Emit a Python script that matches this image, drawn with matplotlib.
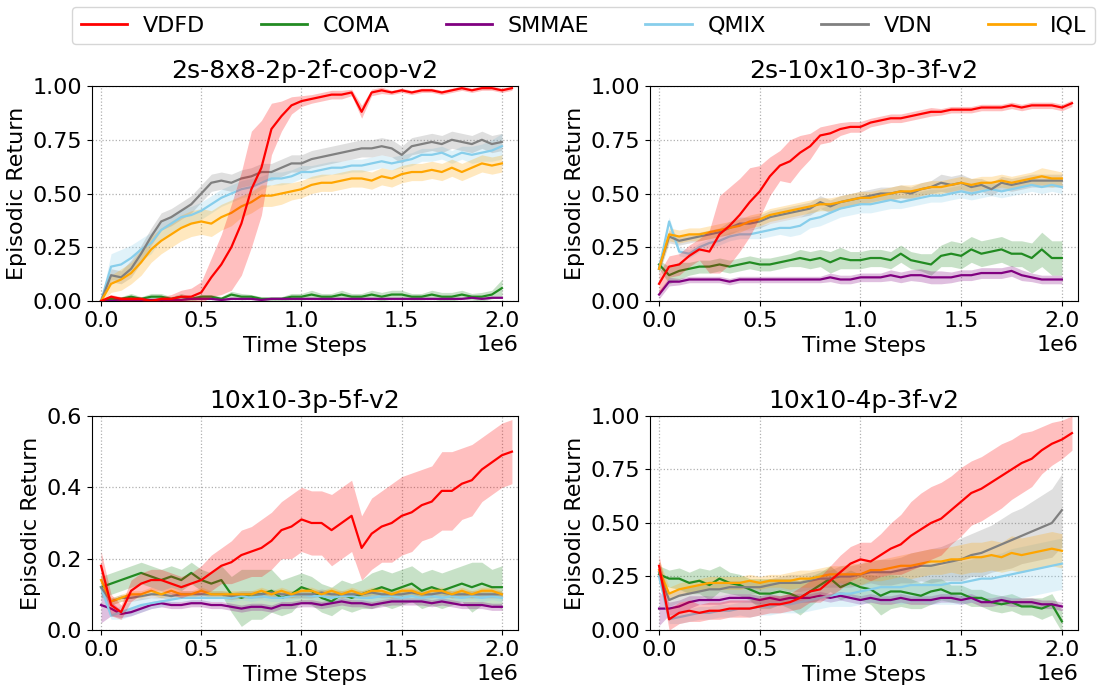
import numpy as np
import matplotlib
matplotlib.use("Agg")
import matplotlib.pyplot as plt

# episodic return sampled every 50k steps; VDFD runs one extra sample (to 2.05e6)
methods = ["VDFD", "COMA", "SMMAE", "QMIX", "VDN", "IQL"]
colors = ["red", "forestgreen", "purple", "skyblue", "grey", "orange"]
titles = ["2s-8x8-2p-2f-coop-v2", "2s-10x10-3p-3f-v2", "10x10-3p-5f-v2", "10x10-4p-3f-v2"]

# ---- 2s-8x8-2p-2f-coop-v2
p1_vdfd = [0.00, 0.02, 0.01, 0.01, 0.01, 0.00, 0.01, 0.01, 0.02, 0.02, 0.04, 0.11, 0.17, 0.25, 0.36, 0.52, 0.62,
           0.80, 0.86, 0.91, 0.93, 0.94, 0.95, 0.96, 0.96, 0.97, 0.88, 0.97, 0.98, 0.97, 0.98, 0.97, 0.98, 0.98,
           0.97, 0.98, 0.99, 0.98, 0.99, 0.99, 0.98, 0.99]
p1_vdfd_sd = [0.005, 0.01, 0.01, 0.01, 0.01, 0.01, 0.01, 0.02, 0.03, 0.04, 0.05, 0.09, 0.14, 0.20, 0.24, 0.27, 0.22,
              0.12, 0.07, 0.04, 0.025, 0.02, 0.02, 0.02, 0.02, 0.015, 0.03, 0.015, 0.015, 0.01, 0.01, 0.01, 0.01,
              0.01, 0.01, 0.01, 0.01, 0.01, 0.01, 0.01, 0.01, 0.01]
p1_coma = [0.00, 0.01, 0.01, 0.02, 0.01, 0.02, 0.02, 0.01, 0.02, 0.01, 0.02, 0.02, 0.01, 0.03, 0.02, 0.02, 0.01,
           0.01, 0.01, 0.02, 0.02, 0.03, 0.02, 0.02, 0.03, 0.02, 0.02, 0.03, 0.02, 0.03, 0.03, 0.02, 0.02, 0.03,
           0.02, 0.02, 0.03, 0.02, 0.02, 0.03, 0.06]
p1_coma_sd = [0.005, 0.01, 0.01, 0.015, 0.01, 0.015, 0.015, 0.01, 0.015, 0.01, 0.01, 0.01, 0.01, 0.015, 0.015, 0.01,
              0.01, 0.01, 0.01, 0.015, 0.015, 0.02, 0.015, 0.015, 0.02, 0.015, 0.015, 0.02, 0.02, 0.02, 0.02, 0.015,
              0.015, 0.02, 0.02, 0.02, 0.02, 0.015, 0.02, 0.02, 0.04]
p1_smmae = [0.00, 0.00, 0.005, 0.005, 0.005, 0.005, 0.005, 0.005, 0.005, 0.01, 0.01, 0.01, 0.005, 0.01, 0.01, 0.01,
            0.005, 0.01, 0.01, 0.01, 0.01, 0.01, 0.01, 0.01, 0.01, 0.01, 0.01, 0.01, 0.01, 0.01, 0.01, 0.01, 0.01,
            0.01, 0.01, 0.01, 0.01, 0.015, 0.01, 0.015, 0.015]
p1_smmae_sd = [0.003] * 41
p1_qmix = [0.00, 0.16, 0.17, 0.20, 0.24, 0.27, 0.33, 0.36, 0.39, 0.40, 0.42, 0.45, 0.48, 0.50, 0.52, 0.53, 0.55,
           0.57, 0.57, 0.58, 0.60, 0.60, 0.61, 0.62, 0.62, 0.63, 0.63, 0.64, 0.65, 0.64, 0.65, 0.66, 0.68, 0.68,
           0.69, 0.67, 0.69, 0.68, 0.69, 0.70, 0.72]
p1_qmix_sd = [0.01, 0.06, 0.07, 0.06, 0.05, 0.05, 0.04, 0.04, 0.04, 0.04, 0.04, 0.04, 0.04, 0.04, 0.04, 0.04, 0.03,
              0.03, 0.03, 0.03, 0.03, 0.03, 0.03, 0.03, 0.03, 0.03, 0.03, 0.03, 0.03, 0.03, 0.03, 0.03, 0.03, 0.03,
              0.03, 0.03, 0.03, 0.04, 0.04, 0.05, 0.06]
p1_vdn = [0.00, 0.12, 0.11, 0.15, 0.22, 0.30, 0.37, 0.39, 0.42, 0.45, 0.50, 0.55, 0.56, 0.55, 0.57, 0.58, 0.60,
          0.60, 0.62, 0.64, 0.64, 0.66, 0.67, 0.68, 0.69, 0.70, 0.71, 0.71, 0.72, 0.71, 0.68, 0.72, 0.73, 0.74,
          0.73, 0.75, 0.74, 0.73, 0.75, 0.73, 0.74]
p1_vdn_sd = [0.01, 0.03, 0.03, 0.04, 0.04, 0.04, 0.04, 0.04, 0.04, 0.04, 0.04, 0.04, 0.04, 0.04, 0.04, 0.04, 0.04,
             0.04, 0.04, 0.04, 0.04, 0.04, 0.04, 0.04, 0.04, 0.04, 0.04, 0.04, 0.04, 0.04, 0.04, 0.04, 0.04, 0.04,
             0.04, 0.04, 0.04, 0.04, 0.04, 0.04, 0.04]
p1_iql = [0.00, 0.08, 0.10, 0.13, 0.18, 0.24, 0.28, 0.31, 0.34, 0.36, 0.37, 0.36, 0.39, 0.41, 0.44, 0.46, 0.49,
          0.49, 0.50, 0.51, 0.52, 0.54, 0.55, 0.55, 0.56, 0.57, 0.57, 0.56, 0.58, 0.57, 0.59, 0.60, 0.60, 0.61,
          0.60, 0.62, 0.60, 0.62, 0.64, 0.63, 0.64]
p1_iql_sd = [0.01, 0.04, 0.05, 0.05, 0.06, 0.06, 0.06, 0.06, 0.06, 0.06, 0.06, 0.06, 0.06, 0.06, 0.05, 0.05, 0.05,
             0.05, 0.05, 0.04, 0.04, 0.04, 0.04, 0.04, 0.04, 0.04, 0.04, 0.04, 0.04, 0.04, 0.04, 0.04, 0.04, 0.04,
             0.04, 0.04, 0.04, 0.04, 0.04, 0.04, 0.04]

# ---- 2s-10x10-3p-3f-v2
p2_vdfd = [0.08, 0.16, 0.17, 0.21, 0.24, 0.23, 0.31, 0.35, 0.40, 0.46, 0.51, 0.58, 0.63, 0.65, 0.69, 0.72, 0.77,
           0.78, 0.80, 0.81, 0.81, 0.83, 0.84, 0.85, 0.85, 0.86, 0.87, 0.88, 0.88, 0.89, 0.89, 0.89, 0.90, 0.90,
           0.90, 0.91, 0.90, 0.91, 0.91, 0.91, 0.90, 0.92]
p2_vdfd_sd = [0.05, 0.05, 0.05, 0.05, 0.05, 0.10, 0.18, 0.18, 0.17, 0.16, 0.12, 0.09, 0.07, 0.10, 0.08, 0.06, 0.04,
              0.04, 0.03, 0.025, 0.025, 0.02, 0.02, 0.02, 0.02, 0.02, 0.02, 0.02, 0.015, 0.015, 0.015, 0.015, 0.015,
              0.015, 0.015, 0.015, 0.015, 0.015, 0.015, 0.015, 0.015, 0.015]
p2_coma = [0.17, 0.12, 0.14, 0.15, 0.16, 0.16, 0.17, 0.16, 0.17, 0.18, 0.17, 0.17, 0.18, 0.19, 0.20, 0.19, 0.20,
           0.18, 0.20, 0.19, 0.19, 0.20, 0.20, 0.19, 0.22, 0.19, 0.18, 0.17, 0.21, 0.22, 0.21, 0.24, 0.22, 0.23,
           0.24, 0.22, 0.22, 0.20, 0.24, 0.20, 0.20]
p2_coma_sd = [0.02, 0.04, 0.04, 0.03, 0.03, 0.03, 0.03, 0.03, 0.03, 0.03, 0.03, 0.03, 0.03, 0.03, 0.04, 0.04, 0.04,
              0.05, 0.05, 0.04, 0.04, 0.04, 0.04, 0.04, 0.04, 0.04, 0.04, 0.05, 0.05, 0.06, 0.06, 0.06, 0.06, 0.06,
              0.06, 0.06, 0.06, 0.07, 0.08, 0.08, 0.08]
p2_smmae = [0.03, 0.09, 0.09, 0.10, 0.10, 0.10, 0.10, 0.09, 0.10, 0.10, 0.10, 0.10, 0.10, 0.10, 0.10, 0.10, 0.10,
            0.11, 0.10, 0.10, 0.11, 0.11, 0.11, 0.12, 0.11, 0.12, 0.12, 0.11, 0.11, 0.11, 0.12, 0.12, 0.13, 0.13,
            0.13, 0.14, 0.12, 0.11, 0.10, 0.10, 0.10]
p2_smmae_sd = [0.02, 0.02, 0.015, 0.015, 0.015, 0.015, 0.015, 0.015, 0.015, 0.015, 0.015, 0.015, 0.015, 0.015, 0.015,
               0.015, 0.015, 0.02, 0.02, 0.02, 0.02, 0.02, 0.02, 0.025, 0.025, 0.025, 0.03, 0.03, 0.03, 0.025, 0.025,
               0.025, 0.025, 0.025, 0.025, 0.025, 0.025, 0.02, 0.02, 0.02, 0.02]
p2_qmix = [0.15, 0.37, 0.23, 0.22, 0.25, 0.27, 0.28, 0.30, 0.31, 0.31, 0.32, 0.33, 0.34, 0.34, 0.35, 0.38, 0.39,
           0.41, 0.43, 0.44, 0.45, 0.45, 0.46, 0.47, 0.46, 0.47, 0.48, 0.49, 0.49, 0.50, 0.51, 0.50, 0.51, 0.52,
           0.51, 0.52, 0.53, 0.54, 0.53, 0.54, 0.53]
p2_qmix_sd = [0.02, 0.02, 0.02, 0.02, 0.02, 0.02, 0.02, 0.02, 0.02, 0.02, 0.03, 0.03, 0.03, 0.04, 0.04, 0.04, 0.04,
              0.04, 0.04, 0.04, 0.04, 0.04, 0.04, 0.04, 0.03, 0.03, 0.03, 0.03, 0.03, 0.03, 0.03, 0.03, 0.03, 0.03,
              0.03, 0.03, 0.03, 0.03, 0.03, 0.03, 0.03]
p2_vdn = [0.15, 0.30, 0.28, 0.29, 0.30, 0.31, 0.32, 0.34, 0.36, 0.36, 0.37, 0.39, 0.40, 0.41, 0.42, 0.43, 0.46,
          0.44, 0.46, 0.47, 0.48, 0.49, 0.50, 0.50, 0.51, 0.50, 0.52, 0.53, 0.55, 0.54, 0.55, 0.53, 0.54, 0.52,
          0.55, 0.54, 0.55, 0.56, 0.56, 0.56, 0.56]
p2_vdn_sd = [0.02, 0.03, 0.02, 0.02, 0.02, 0.02, 0.02, 0.03, 0.03, 0.03, 0.03, 0.03, 0.03, 0.03, 0.03, 0.03, 0.03,
             0.03, 0.03, 0.03, 0.03, 0.03, 0.03, 0.03, 0.03, 0.03, 0.03, 0.03, 0.04, 0.04, 0.04, 0.04, 0.03, 0.03,
             0.03, 0.03, 0.03, 0.03, 0.03, 0.03, 0.03]
p2_iql = [0.15, 0.31, 0.30, 0.31, 0.31, 0.32, 0.33, 0.34, 0.35, 0.37, 0.38, 0.40, 0.41, 0.42, 0.43, 0.44, 0.45,
          0.45, 0.46, 0.47, 0.48, 0.48, 0.49, 0.50, 0.51, 0.51, 0.52, 0.53, 0.53, 0.54, 0.55, 0.54, 0.55, 0.55,
          0.56, 0.55, 0.56, 0.57, 0.58, 0.57, 0.57]
p2_iql_sd = [0.02, 0.03, 0.03, 0.03, 0.03, 0.03, 0.03, 0.03, 0.03, 0.03, 0.03, 0.03, 0.03, 0.03, 0.03, 0.03, 0.03,
             0.03, 0.03, 0.03, 0.03, 0.03, 0.03, 0.03, 0.03, 0.03, 0.03, 0.03, 0.03, 0.03, 0.03, 0.03, 0.03, 0.03,
             0.03, 0.03, 0.03, 0.03, 0.04, 0.04, 0.03]

# ---- 10x10-3p-5f-v2
p3_vdfd = [0.18, 0.07, 0.05, 0.11, 0.13, 0.14, 0.14, 0.13, 0.12, 0.13, 0.14, 0.16, 0.18, 0.19, 0.21, 0.22, 0.23,
           0.25, 0.28, 0.29, 0.31, 0.30, 0.30, 0.28, 0.30, 0.32, 0.23, 0.27, 0.29, 0.30, 0.32, 0.33, 0.35, 0.36,
           0.39, 0.39, 0.41, 0.42, 0.45, 0.47, 0.49, 0.50]
p3_vdfd_sd = [0.04, 0.03, 0.02, 0.03, 0.03, 0.03, 0.03, 0.03, 0.03, 0.03, 0.04, 0.05, 0.05, 0.06, 0.07, 0.07, 0.08,
              0.08, 0.08, 0.09, 0.09, 0.09, 0.09, 0.10, 0.10, 0.10, 0.09, 0.10, 0.10, 0.11, 0.11, 0.11, 0.10, 0.10,
              0.11, 0.11, 0.10, 0.10, 0.09, 0.09, 0.09, 0.09]
p3_coma = [0.12, 0.13, 0.14, 0.15, 0.16, 0.15, 0.14, 0.15, 0.14, 0.16, 0.14, 0.13, 0.14, 0.10, 0.09, 0.10, 0.10,
           0.11, 0.09, 0.10, 0.12, 0.11, 0.09, 0.08, 0.10, 0.09, 0.10, 0.11, 0.12, 0.11, 0.12, 0.13, 0.11, 0.12,
           0.11, 0.12, 0.13, 0.12, 0.13, 0.12, 0.12]
p3_coma_sd = [0.03, 0.03, 0.03, 0.03, 0.03, 0.03, 0.03, 0.03, 0.03, 0.03, 0.03, 0.03, 0.04, 0.05, 0.08, 0.07, 0.07,
              0.06, 0.05, 0.05, 0.04, 0.04, 0.04, 0.04, 0.04, 0.04, 0.04, 0.05, 0.05, 0.05, 0.05, 0.05, 0.05, 0.05,
              0.05, 0.05, 0.05, 0.07, 0.06, 0.05, 0.06]
p3_smmae = [0.07, 0.06, 0.045, 0.05, 0.06, 0.07, 0.075, 0.07, 0.07, 0.075, 0.075, 0.07, 0.07, 0.065, 0.06, 0.065,
            0.065, 0.06, 0.07, 0.07, 0.075, 0.075, 0.07, 0.075, 0.08, 0.075, 0.075, 0.07, 0.075, 0.08, 0.08, 0.08,
            0.08, 0.075, 0.08, 0.075, 0.07, 0.07, 0.07, 0.065, 0.065]
p3_smmae_sd = [0.05, 0.02, 0.01, 0.01, 0.01, 0.01, 0.01, 0.01, 0.01, 0.01, 0.01, 0.01, 0.01, 0.01, 0.01, 0.01, 0.01,
               0.01, 0.01, 0.01, 0.01, 0.01, 0.01, 0.01, 0.01, 0.01, 0.01, 0.01, 0.01, 0.01, 0.01, 0.01, 0.01, 0.01,
               0.01, 0.01, 0.01, 0.01, 0.01, 0.01, 0.01]
p3_qmix = [0.12, 0.04, 0.05, 0.06, 0.07, 0.075, 0.08, 0.085, 0.09, 0.09, 0.09, 0.09, 0.09, 0.09, 0.095, 0.09, 0.095,
           0.09, 0.09, 0.095, 0.10, 0.095, 0.095, 0.09, 0.095, 0.095, 0.09, 0.09, 0.095, 0.095, 0.09, 0.095, 0.09,
           0.095, 0.09, 0.095, 0.09, 0.095, 0.09, 0.095, 0.09]
p3_qmix_sd = [0.02, 0.01, 0.02, 0.02, 0.02, 0.015, 0.015, 0.01, 0.01, 0.01, 0.01, 0.01, 0.01, 0.01, 0.01, 0.01, 0.01,
              0.01, 0.01, 0.01, 0.01, 0.01, 0.01, 0.01, 0.01, 0.01, 0.01, 0.01, 0.01, 0.01, 0.01, 0.01, 0.01, 0.01,
              0.01, 0.01, 0.01, 0.01, 0.01, 0.01, 0.01]
p3_vdn = [0.12, 0.08, 0.09, 0.09, 0.095, 0.10, 0.10, 0.095, 0.10, 0.10, 0.10, 0.10, 0.10, 0.095, 0.10, 0.10, 0.10,
          0.105, 0.10, 0.10, 0.10, 0.10, 0.105, 0.10, 0.10, 0.10, 0.10, 0.105, 0.10, 0.10, 0.10, 0.105, 0.10, 0.10,
          0.105, 0.10, 0.10, 0.10, 0.10, 0.10, 0.10]
p3_vdn_sd = [0.02, 0.01, 0.01, 0.01, 0.01, 0.01, 0.01, 0.01, 0.01, 0.01, 0.01, 0.01, 0.01, 0.01, 0.01, 0.01, 0.01,
             0.01, 0.01, 0.01, 0.01, 0.01, 0.01, 0.01, 0.01, 0.01, 0.01, 0.01, 0.01, 0.01, 0.01, 0.01, 0.01, 0.01,
             0.01, 0.01, 0.01, 0.01, 0.01, 0.01, 0.01]
p3_iql = [0.14, 0.08, 0.09, 0.10, 0.10, 0.11, 0.10, 0.11, 0.10, 0.10, 0.11, 0.10, 0.10, 0.10, 0.10, 0.10, 0.11,
          0.10, 0.11, 0.10, 0.11, 0.11, 0.10, 0.11, 0.10, 0.11, 0.10, 0.11, 0.11, 0.10, 0.11, 0.11, 0.10, 0.11,
          0.11, 0.10, 0.11, 0.10, 0.11, 0.11, 0.10]
p3_iql_sd = [0.02, 0.01, 0.01, 0.01, 0.01, 0.01, 0.01, 0.01, 0.01, 0.01, 0.01, 0.01, 0.01, 0.01, 0.01, 0.01, 0.01,
             0.01, 0.01, 0.01, 0.01, 0.01, 0.01, 0.01, 0.01, 0.01, 0.01, 0.01, 0.01, 0.01, 0.01, 0.01, 0.01, 0.01,
             0.01, 0.01, 0.01, 0.01, 0.01, 0.01, 0.01]

# ---- 10x10-4p-3f-v2
p4_vdfd = [0.30, 0.05, 0.08, 0.09, 0.08, 0.09, 0.09, 0.10, 0.10, 0.10, 0.11, 0.12, 0.12, 0.13, 0.15, 0.18, 0.19,
           0.23, 0.27, 0.31, 0.33, 0.32, 0.35, 0.38, 0.40, 0.44, 0.47, 0.50, 0.52, 0.56, 0.60, 0.64, 0.66, 0.69,
           0.72, 0.75, 0.78, 0.80, 0.84, 0.87, 0.89, 0.92]
p4_vdfd_sd = [0.05, 0.05, 0.05, 0.05, 0.04, 0.04, 0.04, 0.04, 0.04, 0.04, 0.04, 0.04, 0.04, 0.04, 0.05, 0.05, 0.06,
              0.07, 0.08, 0.08, 0.08, 0.09, 0.10, 0.12, 0.14, 0.16, 0.17, 0.17, 0.17, 0.16, 0.16, 0.15, 0.15, 0.15,
              0.15, 0.14, 0.14, 0.13, 0.11, 0.10, 0.09, 0.08]
p4_coma = [0.26, 0.24, 0.24, 0.22, 0.23, 0.21, 0.24, 0.22, 0.21, 0.19, 0.17, 0.17, 0.18, 0.17, 0.15, 0.18, 0.21,
           0.24, 0.20, 0.22, 0.20, 0.19, 0.16, 0.18, 0.18, 0.17, 0.16, 0.18, 0.19, 0.17, 0.17, 0.15, 0.15, 0.13,
           0.12, 0.13, 0.11, 0.11, 0.10, 0.12, 0.04]
p4_coma_sd = [0.04, 0.04, 0.05, 0.05, 0.06, 0.07, 0.06, 0.05, 0.05, 0.05, 0.07, 0.07, 0.06, 0.07, 0.08, 0.07, 0.06,
              0.06, 0.06, 0.06, 0.06, 0.07, 0.09, 0.08, 0.07, 0.07, 0.06, 0.06, 0.05, 0.04, 0.04, 0.04, 0.04, 0.04,
              0.04, 0.04, 0.04, 0.04, 0.05, 0.05, 0.05]
p4_smmae = [0.10, 0.10, 0.11, 0.13, 0.14, 0.14, 0.14, 0.15, 0.15, 0.15, 0.14, 0.15, 0.14, 0.15, 0.15, 0.15, 0.16,
            0.15, 0.16, 0.15, 0.14, 0.15, 0.14, 0.14, 0.15, 0.14, 0.14, 0.14, 0.15, 0.15, 0.14, 0.15, 0.13, 0.13,
            0.14, 0.13, 0.13, 0.13, 0.12, 0.12, 0.11]
p4_smmae_sd = [0.08, 0.03, 0.03, 0.03, 0.02, 0.02, 0.02, 0.02, 0.02, 0.02, 0.02, 0.02, 0.02, 0.02, 0.02, 0.02, 0.02,
               0.02, 0.02, 0.02, 0.02, 0.02, 0.02, 0.02, 0.02, 0.02, 0.02, 0.02, 0.02, 0.02, 0.02, 0.02, 0.02, 0.02,
               0.02, 0.02, 0.02, 0.02, 0.02, 0.02, 0.02]
p4_qmix = [0.25, 0.05, 0.06, 0.07, 0.08, 0.08, 0.09, 0.09, 0.10, 0.10, 0.11, 0.11, 0.12, 0.12, 0.13, 0.14, 0.15,
           0.16, 0.17, 0.17, 0.18, 0.19, 0.20, 0.20, 0.20, 0.21, 0.21, 0.21, 0.21, 0.22, 0.22, 0.23, 0.24, 0.24,
           0.25, 0.26, 0.27, 0.28, 0.29, 0.30, 0.31]
p4_qmix_sd = [0.03, 0.02, 0.03, 0.03, 0.03, 0.03, 0.03, 0.03, 0.03, 0.04, 0.04, 0.04, 0.04, 0.04, 0.05, 0.05, 0.05,
              0.05, 0.06, 0.06, 0.06, 0.06, 0.07, 0.07, 0.08, 0.08, 0.08, 0.09, 0.09, 0.10, 0.10, 0.10, 0.11, 0.11,
              0.11, 0.12, 0.12, 0.12, 0.12, 0.12, 0.12]
p4_vdn = [0.27, 0.14, 0.16, 0.17, 0.18, 0.19, 0.19, 0.20, 0.20, 0.20, 0.20, 0.21, 0.22, 0.22, 0.22, 0.23, 0.24,
          0.24, 0.25, 0.25, 0.26, 0.27, 0.27, 0.27, 0.28, 0.29, 0.30, 0.30, 0.31, 0.32, 0.33, 0.35, 0.36, 0.38,
          0.40, 0.42, 0.44, 0.46, 0.48, 0.50, 0.56]
p4_vdn_sd = [0.05, 0.03, 0.03, 0.03, 0.03, 0.03, 0.03, 0.03, 0.03, 0.03, 0.03, 0.03, 0.03, 0.04, 0.04, 0.04, 0.04,
             0.04, 0.05, 0.05, 0.05, 0.05, 0.06, 0.06, 0.06, 0.07, 0.07, 0.08, 0.08, 0.09, 0.10, 0.10, 0.11, 0.11,
             0.12, 0.13, 0.13, 0.14, 0.15, 0.16, 0.17]
p4_iql = [0.28, 0.17, 0.19, 0.20, 0.21, 0.22, 0.22, 0.22, 0.22, 0.23, 0.22, 0.23, 0.23, 0.23, 0.24, 0.24, 0.25,
          0.26, 0.26, 0.26, 0.26, 0.28, 0.28, 0.29, 0.30, 0.30, 0.31, 0.32, 0.32, 0.33, 0.33, 0.34, 0.34, 0.35,
          0.34, 0.36, 0.35, 0.36, 0.37, 0.38, 0.37]
p4_iql_sd = [0.05, 0.03, 0.03, 0.03, 0.03, 0.03, 0.03, 0.03, 0.03, 0.03, 0.03, 0.03, 0.03, 0.04, 0.04, 0.04, 0.04,
             0.04, 0.04, 0.05, 0.05, 0.05, 0.05, 0.05, 0.05, 0.06, 0.06, 0.06, 0.06, 0.06, 0.07, 0.07, 0.07, 0.07,
             0.07, 0.08, 0.08, 0.08, 0.08, 0.08, 0.08]

panels = [
    [(p1_vdfd, p1_vdfd_sd), (p1_coma, p1_coma_sd), (p1_smmae, p1_smmae_sd),
     (p1_qmix, p1_qmix_sd), (p1_vdn, p1_vdn_sd), (p1_iql, p1_iql_sd)],
    [(p2_vdfd, p2_vdfd_sd), (p2_coma, p2_coma_sd), (p2_smmae, p2_smmae_sd),
     (p2_qmix, p2_qmix_sd), (p2_vdn, p2_vdn_sd), (p2_iql, p2_iql_sd)],
    [(p3_vdfd, p3_vdfd_sd), (p3_coma, p3_coma_sd), (p3_smmae, p3_smmae_sd),
     (p3_qmix, p3_qmix_sd), (p3_vdn, p3_vdn_sd), (p3_iql, p3_iql_sd)],
    [(p4_vdfd, p4_vdfd_sd), (p4_coma, p4_coma_sd), (p4_smmae, p4_smmae_sd),
     (p4_qmix, p4_qmix_sd), (p4_vdn, p4_vdn_sd), (p4_iql, p4_iql_sd)],
]
y_tops = [1.0, 1.0, 0.6, 1.0]
y_ticks = [[0, 0.25, 0.5, 0.75, 1.0], [0, 0.25, 0.5, 0.75, 1.0], [0, 0.2, 0.4, 0.6], [0, 0.25, 0.5, 0.75, 1.0]]

fig = plt.figure(figsize=(11.17, 6.91), dpi=100)
rects = [
    [0.0824, 0.5644, 0.3813, 0.3111],
    [0.5819, 0.5644, 0.3832, 0.3111],
    [0.0824, 0.0883, 0.3813, 0.3097],
    [0.5819, 0.0883, 0.3832, 0.3097],
]

handles = []
for k, series in enumerate(panels):
    ax = fig.add_axes(rects[k])
    for j, (mean, sd) in enumerate(series):
        mean = np.array(mean)
        sd = np.array(sd)
        steps = np.arange(len(mean)) * 50000
        z = 5 if j == 0 else 3
        ax.fill_between(steps, mean - sd, mean + sd, color=colors[j], alpha=0.25, linewidth=0, zorder=z - 1)
        line, = ax.plot(steps, mean, color=colors[j], linewidth=1.6, label=methods[j], zorder=z)
        if k == 0:
            handles.append(line)
    ax.set_xlim(-0.045e6, 2.08e6)
    ax.set_ylim(0, y_tops[k])
    ax.set_yticks(y_ticks[k])
    if y_tops[k] == 0.6:
        ax.set_yticklabels(["0.0", "0.2", "0.4", "0.6"])
    else:
        ax.set_yticklabels(["0.00", "0.25", "0.50", "0.75", "1.00"])
    ax.set_xticks([0, 0.5e6, 1.0e6, 1.5e6, 2.0e6])
    ax.tick_params(labelsize=16)
    ax.xaxis.get_offset_text().set_fontsize(16)
    ax.grid(True, linestyle=":", color="#b0b0b0", linewidth=0.9)
    ax.set_title(titles[k], fontsize=18)
    ax.set_xlabel("Time Steps", fontsize=16)
    ax.set_ylabel("Episodic Return", fontsize=16)

leg = fig.legend(handles, methods, loc="upper center", ncol=6, bbox_to_anchor=(0.5224, 1.0),
                 fontsize=16, handlelength=2.1, handletextpad=0.7, columnspacing=2.5,
                 borderaxespad=0.3, frameon=True)
for h in leg.get_lines():
    h.set_linewidth(2)

fig.savefig("out.png", dpi=100)
